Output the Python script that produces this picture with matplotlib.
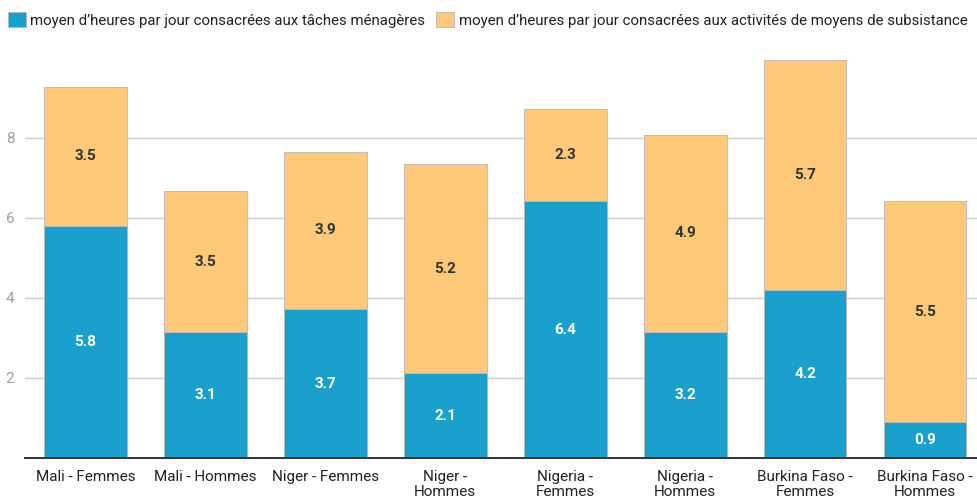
import numpy as np
import matplotlib
matplotlib.use("Agg")
import matplotlib.pyplot as plt
from matplotlib.patches import Patch

plt.rcParams["font.family"] = ["Roboto", "DejaVu Sans"]

# ---- data ----
categories = ["Mali - Femmes", "Mali - Hommes", "Niger - Femmes", "Niger -\nHommes",
              "Nigeria -\nFemmes", "Nigeria -\nHommes", "Burkina Faso -\nFemmes",
              "Burkina Faso -\nHommes"]
menageres = [5.8, 3.14, 3.72, 2.12, 6.42, 3.16, 4.2, 0.9]
subsistance = [3.48, 3.54, 3.94, 5.22, 2.3, 4.92, 5.74, 5.52]
yticks = [2, 4, 6, 8]
legend_labels = ["moyen d’heures par jour consacrées aux tâches ménagères",
                 "moyen d’heures par jour consacrées aux activités de moyens de subsistance"]

BLUE = "#1aa0cc"
ORANGE = "#fec978"
EDGE = "#b8b8b8"
GRID = "#cccccc"
TICK = "#9e9e9e"
DARK = "#333333"

fig = plt.figure(figsize=(9.77, 4.99), dpi=100)
ax = fig.add_axes([0.0261, 0.0822, 0.9735, 0.8337])

x = np.arange(len(categories))
w = 0.69
ax.bar(x, menageres, w, color=BLUE, edgecolor=EDGE, lw=0.6, zorder=3)
ax.bar(x, subsistance, w, bottom=menageres, color=ORANGE, edgecolor=EDGE, lw=0.6, zorder=3)

for i in range(len(categories)):
    ax.text(x[i], menageres[i] / 2, f"{menageres[i]:.1f}", ha="center", va="center",
            color="white", fontsize=11, fontweight="bold", zorder=4)
    ax.text(x[i], menageres[i] + subsistance[i] / 2, f"{subsistance[i]:.1f}", ha="center",
            va="center", color=DARK, fontsize=11, fontweight="bold", zorder=4)

ax.set_xlim(-0.5, 7.43)
ax.set_ylim(0, 10.4)
ax.set_yticks(yticks)
ax.set_xticks(x)
ax.set_xticklabels(categories, fontsize=11, color="#222222", linespacing=1.05)
ax.tick_params(axis="y", length=0, pad=8, labelsize=11, labelcolor=TICK)
ax.tick_params(axis="x", length=0, pad=9)
ax.grid(axis="y", color=GRID, lw=1, zorder=0)
for s in ["top", "right", "left"]:
    ax.spines[s].set_visible(False)
ax.spines["bottom"].set_color(DARK)
ax.spines["bottom"].set_linewidth(1.4)
ax.spines["bottom"].set_zorder(5)

handles = [Patch(facecolor=BLUE, edgecolor=EDGE, lw=0.6),
           Patch(facecolor=ORANGE, edgecolor=EDGE, lw=0.6)]
fig.legend(handles, legend_labels, loc="upper left", bbox_to_anchor=(-0.003, 0.997), ncol=2,
           frameon=False, fontsize=10.8, handlelength=1.2, handleheight=1.2,
           handletextpad=0.3, columnspacing=0.75, borderaxespad=0.3, labelcolor="#222222")

fig.savefig("out.png", dpi=100)
